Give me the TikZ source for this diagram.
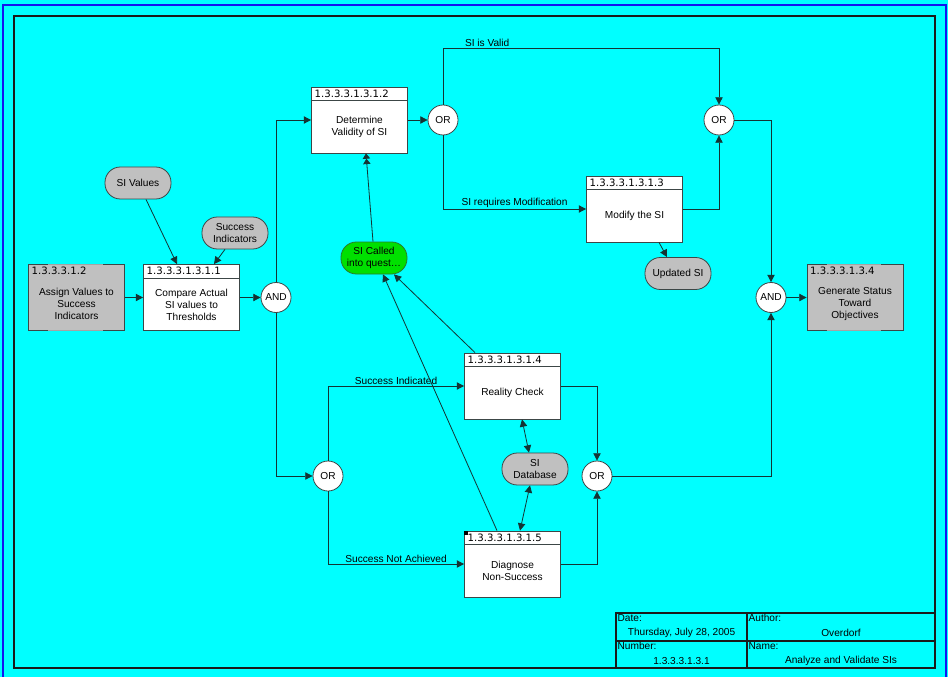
\documentclass[tikz,border=0pt]{standalone}
\usepackage{fontspec}
\setmainfont{Liberation Sans}
\newfontfamily\idfont{DejaVu Sans}
\usepackage{tikz}
\usetikzlibrary{arrows.meta,calc,positioning}
\definecolor{Sky}{HTML}{00FFFF}
\definecolor{Ink}{HTML}{143434}
\definecolor{Edge}{HTML}{3C4646}
\definecolor{Frame}{HTML}{1A1A1A}
\definecolor{Stone}{HTML}{C0C0C0}
\definecolor{StoneLine}{HTML}{A4A4A4}
\definecolor{Leaf}{HTML}{00E000}
\definecolor{LeafLine}{HTML}{2A7A2A}
\definecolor{Royal}{HTML}{1414F0}
\tikzset{proc/.style={draw=Edge,fill=white,line width=.6pt,minimum width=72pt,minimum height=49.5pt,inner sep=0pt},refproc/.style={proc,fill=Stone},hdr/.style={anchor=west,inner xsep=2.5pt,inner ysep=0pt,font=\idfont\fontsize{7.6}{9}\selectfont},body/.style={align=center,inner sep=0pt,font=\fontsize{7.6}{9}\selectfont},pill/.style={draw=Edge,fill=Stone,line width=.6pt,rounded corners=11.5pt,minimum width=49.5pt,minimum height=24pt,align=center,inner sep=1pt,font=\fontsize{7.6}{9}\selectfont},called/.style={pill,fill=Leaf,draw=LeafLine},gate/.style={circle,draw=Edge,fill=white,line width=.6pt,minimum size=22.5pt,inner sep=0pt,font=\fontsize{7.6}{9}\selectfont},flow/.style={-{Triangle[length=5.5pt,width=5.5pt]},line width=.6pt,draw=Ink},both/.style={flow,{Triangle[length=5.5pt,width=5.5pt]}-{Triangle[length=5.5pt,width=5.5pt]}},lbl/.style={inner sep=1pt,font=\fontsize{7.6}{9}\selectfont},cell/.style={inner sep=1pt,font=\fontsize{7.6}{9}\selectfont}}
\newcommand\procbox[4]{\node[proc] (#1) at (#2) {};\draw[Edge,line width=.6pt] ($(#1.north west)+(0,14)$) -- ($(#1.north east)+(0,14)$);\node[hdr] (#1-id) at ($(#1.north west)+(0,7)$) {#3};\node[body] (#1-txt) at ($(#1.center)+(0,7)$) {#4};}
\newcommand\refbox[4]{\node[refproc] (#1) at (#2) {};\draw[StoneLine,line width=.8pt] ($(#1.north west)+(20,0)$) -- ($(#1.north east)+(-22,0)$) ($(#1.south west)+(20,0)$) -- ($(#1.south east)+(-22,0)$);\node[hdr] (#1-id) at ($(#1.north west)+(0,7)$) {#3};\node[body] (#1-txt) at ($(#1.center)+(0,6.5)$) {#4};}
\begin{document}
\begin{tikzpicture}[x=.75pt,y=-.75pt]
\useasboundingbox (0,0) rectangle (948,677);
\fill[Sky] (0,0) rectangle (948,677);
\draw[Royal,line width=1.2pt] (3,680) -- (3,5) -- (946,5) -- (946,680);
\draw[Frame,line width=1.5pt] (14,16) rectangle (935,668);
\refbox{assign}{76.5,297.5}{1.3.3.3.1.2}{Assign Values to\\Success\\Indicators}
\procbox{compare}{191.5,297.5}{1.3.3.3.1.3.1.1}{Compare Actual\\SI values to\\Thresholds}
\procbox{validity}{359.5,120}{1.3.3.3.1.3.1.2}{Determine\\Validity of SI}
\procbox{modify}{634.5,209}{1.3.3.3.1.3.1.3}{Modify the SI}
\refbox{status}{855,297.5}{1.3.3.3.1.3.4}{Generate Status\\Toward\\Objectives}
\procbox{reality}{512.5,386}{1.3.3.3.1.3.1.4}{Reality Check}
\procbox{diagnose}{512.5,564}{1.3.3.3.1.3.1.5}{Diagnose\\Non-Success}
\fill[black] (diagnose.north west) rectangle ++(4,4);
\node[pill] (sival) at (138,183) {SI Values};
\node[pill] (siind) at (235,233) {Success\\Indicators};
\node[pill] (updated) at (678,273.5) {Updated SI};
\node[pill] (sidb) at (535,469) {SI\\Database};
\node[called] (sicalled) at (374,258) {SI Called\\into quest\dots};
\node[gate] (andin) at (276,297.5) {AND};
\node[gate] (orvalid) at (443,120) {OR};
\node[gate] (ormerge) at (719,120) {OR};
\node[gate] (andout) at (771,297.5) {AND};
\node[gate] (orsplit) at (328,476) {OR};
\node[gate] (orcheck) at (597,476) {OR};
\coordinate (validbend) at (719,48);
\draw[flow] (assign) -- (compare);
\draw[flow] (compare) -- (andin);
\draw[flow] ($(sival.south)+(8,0)$) -- ($(compare.north)+(-14.5,0)$);
\draw[flow] ($(siind.south)+(-10,0)$) -- ($(compare.north)+(22.5,0)$);
\draw[flow] (andin) |- (validity);
\draw[flow] (andin) |- (orsplit);
\draw[flow] (validity) -- (orvalid);
\draw[flow] (orvalid) |- (validbend) node[lbl,pos=.58,above]{SI is Valid} -- (ormerge);
\draw[flow] (orvalid) |- (modify) node[lbl,pos=.75,above]{SI requires Modification};
\draw[flow] (modify) -| (ormerge);
\draw[flow] ($(modify.south)+(24.5,0)$) -- ($(updated.north)+(-11,0)$);
\draw[flow] (ormerge) -| (andout);
\draw[flow] (andout) -- (status);
\draw[flow] (orsplit) |- (reality) node[lbl,pos=.75,above]{Success Indicated};
\draw[flow] (orsplit) |- (diagnose) node[lbl,pos=.75,above]{Success Not Achieved};
\draw[flow] (reality) -| (orcheck);
\draw[flow] (diagnose) -| (orcheck);
\draw[flow] (orcheck) -| (andout);
\draw[both] ($(reality.south)+(9.5,0)$) -- ($(sidb.north)+(-6,0)$);
\draw[both] ($(sidb.south)+(-5,0)$) -- ($(diagnose.north)+(7.5,0)$);
\draw[flow,-{Triangle[length=4pt,width=5.5pt]Triangle[length=4pt,width=5.5pt]}] ($(sicalled.north)+(-1,0)$) -- ($(validity.south)+(6.5,0)$);
\draw[flow] ($(diagnose.north)+(-15.5,0)$) -- ($(sicalled.south)+(9,0)$);
\draw[flow] ($(reality.north)+(-37.5,0)$) -- ($(sicalled.south)+(20,0)$);
\draw[Frame,line width=.9pt] (616,613) rectangle (935,668) (616,641) -- (935,641) (747,613) -- (747,668);
\node[cell,anchor=north west] (datekey) at (616,613) {Date:};
\node[cell] (dateval) at (681.5,633) {Thursday, July 28, 2005};
\node[cell,anchor=north west] (authorkey) at (747,613) {Author:};
\node[cell] (authorval) at (841,633) {Overdorf};
\node[cell,anchor=north west] (numkey) at (616,641) {Number:};
\node[cell] (numval) at (681.5,661) {1.3.3.3.1.3.1};
\node[cell,anchor=north west] (namekey) at (747,641) {Name:};
\node[cell] (nameval) at (841,661) {Analyze and Validate SIs};
\end{tikzpicture}
\end{document}
